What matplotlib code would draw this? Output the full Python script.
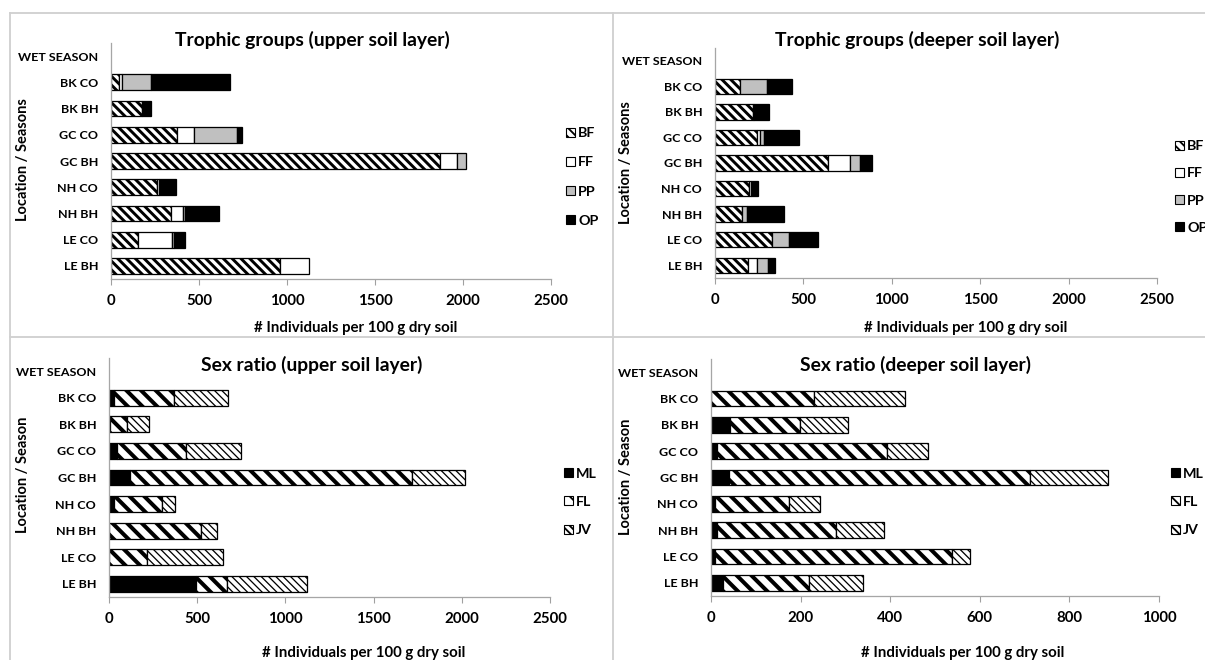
import matplotlib
matplotlib.use("Agg")
import matplotlib.pyplot as plt
from matplotlib.lines import Line2D
from matplotlib.patches import Patch
import numpy as np

# ---------------- data ----------------
categories = ["WET SEASON", "BK CO", "BK BH", "GC CO", "GC BH",
              "NH CO", "NH BH", "LE CO", "LE BH"]

# Trophic groups, upper soil layer (first entry = WET SEASON header row, no bar)
up_BF = [0, 48, 178, 376, 1867, 262, 339, 154, 962]
up_FF = [0, 15, 0, 98, 100, 12, 68, 190, 163]
up_PP = [0, 165, 0, 244, 52, 0, 15, 13, 0]
up_OP = [0, 448, 48, 28, 0, 98, 192, 61, 0]

# Trophic groups, deeper soil layer
dp_BF = [0, 141, 214, 240, 641, 193, 154, 323, 186]
dp_FF = [0, 0, 6, 13, 125, 10, 0, 0, 50]
dp_PP = [0, 151, 0, 24, 55, 0, 26, 95, 65]
dp_OP = [0, 141, 87, 197, 67, 42, 210, 164, 39]

# Sex ratio, upper soil layer
up_ML = [0, 28, 4, 43, 119, 28, 2, 2, 494]
up_FL = [0, 343, 100, 391, 1596, 271, 520, 215, 176]
up_JV = [0, 305, 122, 312, 304, 73, 89, 429, 453]

# Sex ratio, deeper soil layer
dp_ML = [0, 0, 43, 14, 41, 9, 13, 9, 26]
dp_FL = [0, 229, 155, 378, 670, 166, 267, 528, 192]
dp_JV = [0, 203, 107, 93, 176, 69, 107, 42, 122]

trophic_labels = ["BF", "FF", "PP", "OP"]
sex_labels = ["ML", "FL", "JV"]

titles = ["Trophic groups (upper soil layer)", "Trophic groups (deeper soil layer)",
          "Sex ratio (upper soil layer)", "Sex ratio (deeper soil layer)"]
xlabel = "# Individuals per 100 g dry soil"
ylabels = ["Location / Seasons", "Location / Seasons",
           "Location / Season", "Location / Season"]
xticks_big = [0, 500, 1000, 1500, 2000, 2500]
xticks_small = [0, 200, 400, 600, 800, 1000]

# ---------------- style ----------------
W, H, DPI = 1205, 660, 132
plt.rcParams["font.family"] = ["Lato", "DejaVu Sans"]
plt.rcParams["font.weight"] = "bold"
plt.rcParams["hatch.color"] = "black"

# series styles: (facecolor, hatch, hatch linewidth)
styles = {
    "BF": ("white", "\\" * 5, 1.6),
    "FF": ("white", "", 1.0),
    "PP": ("#c0c0c0", "", 1.0),
    "OP": ("black", "", 1.0),
    "ML": ("black", "", 1.0),
    "FL": ("white", "\\" * 3, 2.2),
    "JV": ("white", "\\" * 6, 0.7),
}

fig = plt.figure(figsize=(W / DPI, H / DPI), dpi=DPI)
fig.patch.set_facecolor("white")


def fx(px):
    return px / W


def fy(py):
    return 1 - py / H


def make_axes(x0, x1, ytop, ybot):
    return fig.add_axes([fx(x0), fy(ybot), fx(x1 - x0), (ybot - ytop) / H])


def draw_panel(ax, series, names, xmax, xticks):
    y = np.arange(len(categories))
    left = np.zeros(len(categories))
    for vals, name in zip(series, names):
        fc, hatch, hlw = styles[name]
        vals = np.asarray(vals, dtype=float)
        with plt.rc_context({"hatch.linewidth": hlw}):
            bars = ax.barh(y, vals, left=left, height=0.6, color=fc,
                           edgecolor="black", linewidth=0.7, hatch=hatch,
                           label=name)
            for b, v in zip(bars, vals):
                if hasattr(b, "set_hatch_linewidth"):
                    b.set_hatch_linewidth(hlw)
                if v == 0:
                    # empty segments leave no outline
                    b.set_visible(False)
        left += vals
    ax.set_ylim(len(categories) - 0.5, -0.5)
    ax.set_xlim(0, xmax)
    ax.set_yticks(y)
    ax.set_yticklabels(categories, fontsize=6.8, fontweight="bold")
    ax.set_xticks(xticks)
    ax.set_xticklabels([str(t) for t in xticks], fontsize=8.2, fontweight="bold")
    ax.tick_params(axis="y", length=0, pad=7)
    ax.tick_params(axis="x", length=3, width=0.6, color="#a0a0a0", pad=5)
    for s in ("top", "right"):
        ax.spines[s].set_visible(False)
    for s in ("left", "bottom"):
        ax.spines[s].set_color("#a6a6a6")
        ax.spines[s].set_linewidth(0.7)
    ax.set_facecolor("none")


def add_legend(names, x, ycenter, spacing):
    handles = []
    for name in names:
        fc, hatch, hlw = styles[name]
        p = Patch(facecolor=fc, edgecolor="black", hatch=hatch, linewidth=0.6,
                  label=name)
        if hasattr(p, "set_hatch_linewidth"):
            p.set_hatch_linewidth(min(hlw, 1.0))
        handles.append(p)
    fig.legend(handles=handles, loc="center left",
               bbox_to_anchor=(fx(x), fy(ycenter)),
               bbox_transform=fig.transFigure, frameon=False,
               handlelength=0.6, handleheight=0.6, handletextpad=0.25,
               labelspacing=spacing, borderpad=0, borderaxespad=0,
               prop={"size": 7.8, "weight": "bold"})


# panel frames (light grey chart borders)
frame_kw = dict(color="#d0d0d0", linewidth=1.0, transform=fig.transFigure)
fig.add_artist(Line2D([fx(10), fx(1205)], [fy(13), fy(13)], **frame_kw))
fig.add_artist(Line2D([fx(10), fx(10)], [fy(13), fy(660)], **frame_kw))
fig.add_artist(Line2D([fx(613), fx(613)], [fy(13), fy(660)], **frame_kw))
fig.add_artist(Line2D([fx(10), fx(1205)], [fy(337), fy(337)], **frame_kw))

# axes placement in pixel coordinates
ax1 = make_axes(111, 551, 43, 279)
ax2 = make_axes(715, 1157, 48, 278)
ax3 = make_axes(109, 550, 358, 597)
ax4 = make_axes(711, 1159, 359, 596)

draw_panel(ax1, [up_BF, up_FF, up_PP, up_OP], trophic_labels, 2500, xticks_big)
draw_panel(ax2, [dp_BF, dp_FF, dp_PP, dp_OP], trophic_labels, 2500, xticks_big)
draw_panel(ax3, [up_ML, up_FL, up_JV], sex_labels, 2500, xticks_big)
draw_panel(ax4, [dp_ML, dp_FL, dp_JV], sex_labels, 1000, xticks_small)

add_legend(trophic_labels, 566, 177, 1.2)
add_legend(trophic_labels, 1175, 187, 1.05)
add_legend(sex_labels, 564, 502, 1.15)
add_legend(sex_labels, 1171, 502, 1.15)

title_kw = dict(ha="center", va="center", fontsize=10.5, fontweight="bold")
fig.text(fx(312), fy(40), titles[0], **title_kw)
fig.text(fx(917), fy(40), titles[1], **title_kw)
fig.text(fx(312), fy(365), titles[2], **title_kw)
fig.text(fx(916), fy(365), titles[3], **title_kw)

xl_kw = dict(ha="center", va="center", fontsize=8.2, fontweight="bold")
fig.text(fx(356), fy(328), xlabel, **xl_kw)
fig.text(fx(966), fy(328), xlabel, **xl_kw)
fig.text(fx(364), fy(653), xlabel, **xl_kw)
fig.text(fx(963), fy(653), xlabel, **xl_kw)

yl_kw = dict(ha="center", va="center", rotation=90, fontsize=8.0,
             fontweight="bold")
fig.text(fx(23), fy(160), ylabels[0], **yl_kw)
fig.text(fx(626), fy(163), ylabels[1], **yl_kw)
fig.text(fx(23), fy(475), ylabels[2], **yl_kw)
fig.text(fx(626), fy(477), ylabels[3], **yl_kw)

fig.savefig("out.png", dpi=DPI)
